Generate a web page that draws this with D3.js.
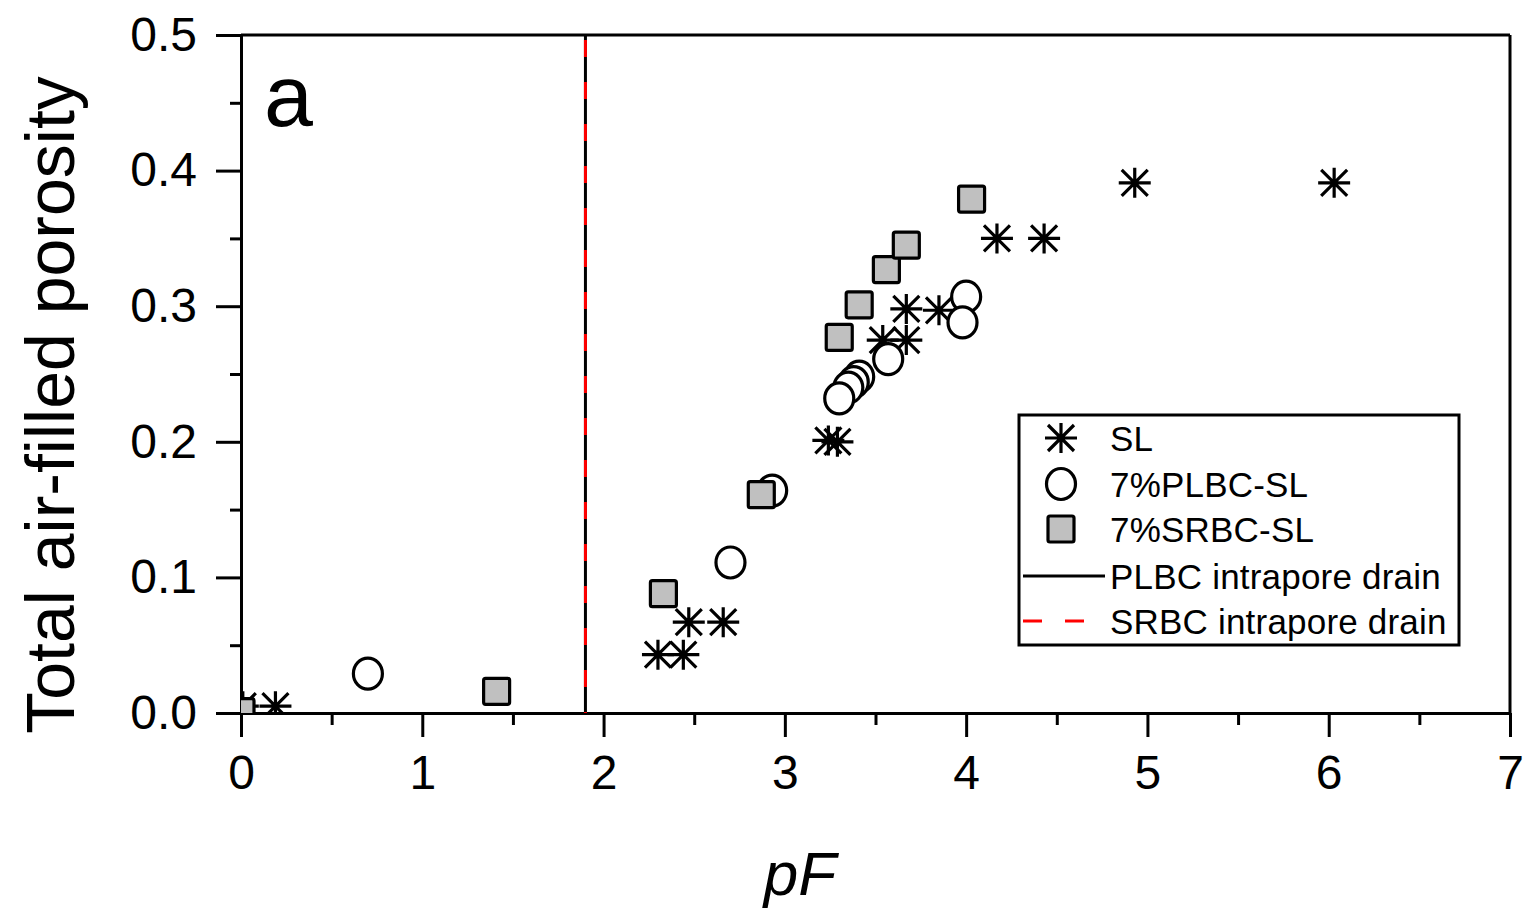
<!DOCTYPE html>
<html>
<head>
<meta charset="utf-8">
<script src="https://d3js.org/d3.v7.min.js"></script>
<style>
  body { margin: 0; background: #fff; }
  text { font-family: "Liberation Sans", Arial, sans-serif; fill: #000; }
</style>
</head>
<body>
<script>
// Total air-filled porosity vs pF, panel a

var svgWidth = 1540;
var svgHeight = 915;

// plot box in pixels
var plotLeft = 241, plotRight = 1510, plotTop = 35, plotBottom = 713;

// data [pF, porosity]
var slData = [
  [0.01, 0.005], [0.19, 0.005], [2.30, 0.043], [2.44, 0.043], [2.47, 0.067],
  [2.66, 0.067], [3.24, 0.201], [3.29, 0.200], [3.54, 0.275], [3.67, 0.275],
  [3.67, 0.298], [3.85, 0.297], [4.17, 0.350], [4.43, 0.350], [4.93, 0.391],
  [6.03, 0.391]
];
var plbcData = [
  [4.00, 0.307], [3.98, 0.288], [3.57, 0.261], [3.41, 0.248], [3.38, 0.244],
  [3.35, 0.240], [3.30, 0.232], [2.93, 0.164], [2.70, 0.111], [0.70, 0.029]
];
var srbcData = [
  [0.00, 0.001], [1.41, 0.016], [2.33, 0.088], [2.87, 0.161], [3.30, 0.277],
  [3.41, 0.301], [3.56, 0.327], [3.67, 0.345], [4.03, 0.379]
];
var drainPF = 1.9;   // both intrapore drain lines sit here

var xTicks = [0, 1, 2, 3, 4, 5, 6, 7];
var xMinor = [0.5, 1.5, 2.5, 3.5, 4.5, 5.5, 6.5];
var yTicks = [0, 0.1, 0.2, 0.3, 0.4, 0.5];
var yMinor = [0.05, 0.15, 0.25, 0.35, 0.45];

var legendNames = ["SL", "7%PLBC-SL", "7%SRBC-SL", "PLBC intrapore drain", "SRBC intrapore drain"];

var svg = d3.select("body")
  .append("svg")
  .attr("width", svgWidth)
  .attr("height", svgHeight);

var x = d3.scaleLinear().domain([0, 7]).range([plotLeft, plotRight]);
var y = d3.scaleLinear().domain([0, 0.5]).range([plotBottom, plotTop]);

svg.append("clipPath").attr("id", "plotclip")
  .append("rect")
  .attr("x", plotLeft).attr("y", plotTop)
  .attr("width", plotRight - plotLeft).attr("height", plotBottom - plotTop);

// axes
function styleAxis(g) {
  g.selectAll("path, line").attr("stroke", "#000").attr("stroke-width", 3);
  g.selectAll("text").style("font-size", "48px").attr("fill", "#000");
}

svg.append("g")
  .attr("transform", "translate(0," + plotBottom + ")")
  .call(d3.axisBottom(x).tickValues(xTicks).tickSize(24).tickSizeOuter(0).tickPadding(18)
    .tickFormat(d3.format("d")))
  .call(styleAxis);

svg.append("g")
  .attr("transform", "translate(0," + plotBottom + ")")
  .call(d3.axisBottom(x).tickValues(xMinor).tickSize(12).tickFormat(""))
  .call(styleAxis)
  .select(".domain").remove();

svg.append("g")
  .attr("transform", "translate(" + plotLeft + ",0)")
  .call(d3.axisLeft(y).tickValues(yTicks).tickSize(25).tickSizeOuter(0).tickPadding(19)
    .tickFormat(d3.format(".1f")))
  .call(styleAxis);

svg.append("g")
  .attr("transform", "translate(" + plotLeft + ",0)")
  .call(d3.axisLeft(y).tickValues(yMinor).tickSize(11).tickFormat(""))
  .call(styleAxis)
  .select(".domain").remove();

// top and right frame
svg.append("line")
  .attr("x1", plotLeft).attr("x2", plotRight).attr("y1", plotTop).attr("y2", plotTop)
  .attr("stroke", "#000").attr("stroke-width", 3);
svg.append("line")
  .attr("x1", plotRight).attr("x2", plotRight).attr("y1", plotTop).attr("y2", plotBottom)
  .attr("stroke", "#000").attr("stroke-width", 3);

// intrapore drain lines
svg.append("line")
  .attr("x1", x(drainPF)).attr("x2", x(drainPF)).attr("y1", plotTop).attr("y2", plotBottom)
  .attr("stroke", "#000").attr("stroke-width", 3);
svg.append("line")
  .attr("x1", x(drainPF)).attr("x2", x(drainPF)).attr("y1", plotTop).attr("y2", plotBottom)
  .attr("stroke", "#ff0000").attr("stroke-width", 3)
  .attr("stroke-dasharray", "17,25").attr("stroke-dashoffset", -5);

// marker shapes
var starPath = "M-16,0H16M0,-15V15M-13,-13L13,13M-13,13L13,-13";

function drawStar(g) {
  g.append("path").attr("d", starPath)
    .attr("stroke", "#000").attr("stroke-width", 3.2).attr("fill", "none");
}
function drawCircle(g) {
  g.append("ellipse").attr("rx", 14.5).attr("ry", 15.5)
    .attr("fill", "#fff").attr("stroke", "#000").attr("stroke-width", 3.2);
}
function drawSquare(g) {
  g.append("rect").attr("x", -13).attr("y", -13).attr("width", 26).attr("height", 26)
    .attr("rx", 2)
    .attr("fill", "#c0c0c0").attr("stroke", "#000").attr("stroke-width", 3.2);
}

var plot = svg.append("g").attr("clip-path", "url(#plotclip)");

function addSeries(data, drawFn) {
  plot.append("g").selectAll("g")
    .data(data)
    .enter()
    .append("g")
    .attr("transform", function(d) { return "translate(" + x(d[0]) + "," + y(d[1]) + ")"; })
    .each(function() { drawFn(d3.select(this)); });
}
addSeries(slData, drawStar);
addSeries(plbcData, drawCircle);
addSeries(srbcData, drawSquare);

// panel letter
svg.append("text")
  .attr("x", 264).attr("y", 126)
  .style("font-size", "88px")
  .text("a");

// axis titles
svg.append("text")
  .attr("transform", "translate(74,405) rotate(-90)")
  .attr("text-anchor", "middle")
  .style("font-size", "68px")
  .text("Total air-filled porosity");

svg.append("text")
  .attr("x", 800).attr("y", 895)
  .attr("text-anchor", "middle")
  .style("font-size", "62px")
  .style("font-style", "italic")
  .text("pF");

// legend
var legend = svg.append("g");
legend.append("rect")
  .attr("x", 1019).attr("y", 415).attr("width", 440).attr("height", 230)
  .attr("fill", "#fff").attr("stroke", "#000").attr("stroke-width", 3);

var rowY = [438, 484, 529, 576, 621];
var symbolFns = [drawStar, drawCircle, drawSquare];

legendNames.forEach(function(name, i) {
  var row = legend.append("g").attr("transform", "translate(0," + rowY[i] + ")");
  if (i < 3) {
    var s = row.append("g").attr("transform", "translate(1061,0)");
    symbolFns[i](s);
  } else {
    var ln = row.append("line")
      .attr("x1", 1023).attr("x2", 1105).attr("y1", 0).attr("y2", 0)
      .attr("stroke-width", 3);
    if (i === 3) {
      ln.attr("stroke", "#000");
    } else {
      ln.attr("stroke", "#ff0000").attr("stroke-dasharray", "19,23");
    }
  }
  row.append("text")
    .attr("x", 1110).attr("y", 0).attr("dy", "0.36em")
    .style("font-size", "35px")
    .style("letter-spacing", "0.2px")
    .text(name);
});
</script>
</body>
</html>
